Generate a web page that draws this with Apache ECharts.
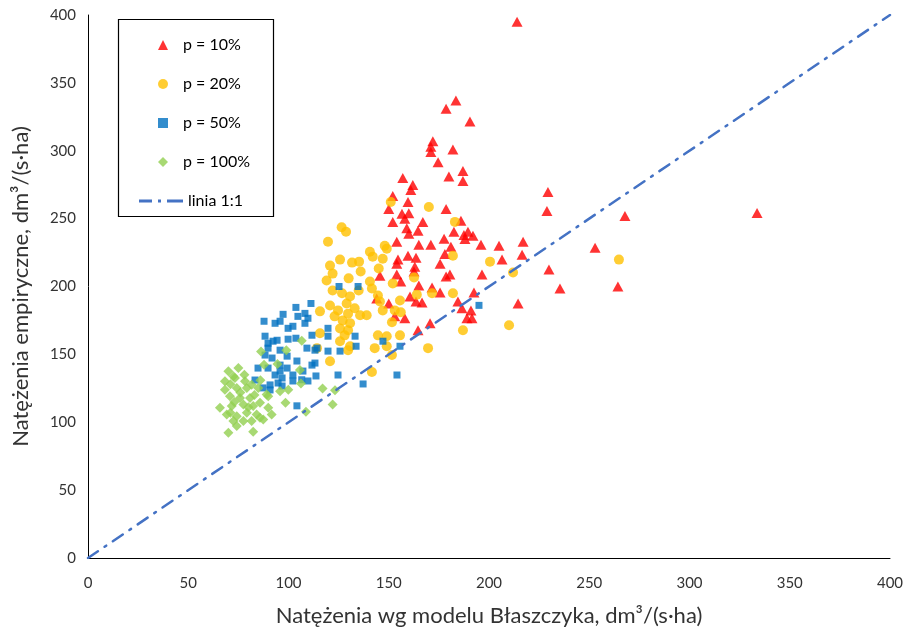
<!DOCTYPE html>
<html>
<head>
<meta charset="utf-8">
<script src="https://cdn.jsdelivr.net/npm/echarts@6/dist/echarts.min.js"></script>
<style>html,body{margin:0;padding:0;background:#fff}#c{width:908px;height:632px}</style>
</head>
<body>
<div id="c"></div>
<script>
const xTicks = [0, 400, 50];
const yTicks = [0, 400, 50];
const seriesNames = ['p = 10%', 'p = 20%', 'p = 50%', 'p = 100%', 'linia 1:1'];
const xTitle = 'Natężenia wg modelu Błaszczyka, dm³/(s·ha)';
const yTitle = 'Natężenia empiryczne, dm³/(s·ha)';

const p10 = [
[214,395],[183.5,337],[178.6,331],[190.5,321.6],[172,307],[171,303],[171,299],[182,301],[174.6,291.6],
[180,281],[187,285],[187,277.7],[157,280],[162,274.7],[161,271],[152,266.7],[159.6,262.3],[150,257],
[178.6,257],[156.6,253.5],[160,254],[158,250],[152,247.6],[167,247.6],[186,248.4],[159,243],[164.6,241],
[160,238.8],[182.5,240.3],[187.5,238],[189.5,240.3],[192,237.4],[177.6,235.2],[188,235],[154,233],
[165,230.8],[171,230.8],[181,229.3],[196,230.8],[205,230],[217,233],[178,224],[159.6,222.7],[163.6,221.2],
[154.6,219.8],[154,216.8],[175.6,216.8],[206.5,219.8],[216.5,223.4],[163,214.6],[162.6,211],[154,208.8],
[178.6,207.3],[180.5,208.8],[196.5,208.8],[145.6,208],[156,203.7],[165,200.7],[171.6,199.3],[175.6,195.6],
[192.5,195.6],[144,191.2],[160.6,192.7],[163.6,189],[166.6,188.3],[184.5,189],[150,187.5],[153,178],
[158,176.6],[189,176.6],[191.5,176.6],[191,182.4],[186.5,183.9],[164.6,167.8],[170.6,172.9],
[229.4,269.6],[228.9,255.7],[267.8,252],[333.7,254.2],[252.9,228.6],[229.9,212.5],[235.4,198.5],
[264.3,200],[214.5,187.5]
];
const p20 = [
[151,262.3],[170,258.6],[183,247.6],[149,227.8],[182,222.7],[200.5,218.3],[162.6,206.6],[152,202.2],
[164,194],[171.6,195],[182,195],[155.6,189.7],[153,182.4],[156,181],[151.6,173.6],[187,167.8],[155.6,164],
[212,210.3],[264.8,219.8],[210,171.4],[169.6,154.6],[126.5,243.7],[128.7,240.3],[119.7,233],[140.6,225.6],
[148,230],[125.7,219.8],[131.7,217.6],[135.2,218.3],[120.7,215.4],[142,222],[147,220.5],[145,213.2],
[136,211],[122,209.5],[130,206],[119,204.4],[140.6,203.7],[141.6,198.5],[135,197],[122,197],[126.7,195],
[130.7,192.7],[144.6,193.4],[145.6,189],[120.7,186],[124.7,182.4],[129,187.5],[133,184],[115.7,181.7],
[123,178],[127,175],[129.7,180],[135.7,178.8],[139,178.8],[147,182.4],[130.7,173],[125.7,169],[129.7,167.8],
[128,164],[115.7,165.6],[144.6,164],[149,163.4],[125.7,159.7],[130.7,156],[114.2,154.6],[143,154.6],
[149,156],[151.6,149.5],[120.7,145],[141.6,137],[129.7,153]
];
const p50 = [
[111.2,187.5],[103.7,184.6],[108.2,180.2],[97.3,179.5],[109.7,176.6],[104.7,178],[87.8,174.4],[93.3,172.9],
[95.8,174.4],[99.8,169.2],[102.2,170.7],[108.2,172.9],[88.3,163.4],[92.3,159.7],[94.3,160.4],[99.8,161.2],
[103.7,161.9],[111.7,164.1],[109.2,154.6],[114.2,154.6],[89.8,154.6],[95.8,153.1],[88.3,149.5],[91.8,147.3],
[99.3,148.7],[104.2,145.1],[111.7,142.1],[84.8,139.9],[89.8,139.9],[95.8,142.1],[99.3,139.9],[107.2,137.7],
[93.3,134.8],[102.2,134.8],[96.8,132.6],[83.3,131.1],[90.8,127.5],[94.8,128.9],[109.7,130.4],[102.2,130.4],
[87.3,125.3],[96.8,126.7],[90.8,123.8],[104.2,112.1],[113.2,153.1],[119.7,163.4],[133.2,163.4],[119.7,152.4],
[125.7,152.4],[113.7,134.1],[124.7,134.8],[125.2,200],[134.7,200],[119.7,169.2],[147.1,159.7],[133.7,156],
[155.6,156],[154.1,134.8],[195,186.1],[137.2,128.2],[89.8,158.2],[113.2,143.6],[95.8,137.7],[106.6,131.3]
];
const p100 = [
[106.6,160.1],[86.3,152.2],[98.9,153.1],[87.8,142.3],[94.5,142.9],[105.7,138.5],[106.2,128.6],[95.8,122.9],
[99.9,124],[117,124.9],[123.2,123.6],[98.5,114.3],[108.7,107.7],[122,113],[70,92.3],[82.4,93],[89.9,110.6],
[75,139.9],[70,137.5],[72.5,133.8],[68.3,130.2],[73.3,132.6],[78.3,130.2],[81.6,127.7],[68.3,124],[74.2,125.3],
[79.2,125.3],[84.9,125.3],[89.1,120.4],[70.8,119.2],[75.8,117.9],[80.8,117.9],[85.8,114.3],[89.9,119.2],
[65.8,110.6],[71.7,111.9],[77.5,113],[82.4,111.9],[69.2,105.7],[74.2,104.5],[79.2,107],[84.1,105.7],
[87.4,102.1],[72.5,100.9],[77.5,100.9],[91.6,105.7],[81.6,100.9],[74.2,97.2],[85.8,103.3],
[71,128],[76,122],[80,111],[73,115],[78,135],[83,120],[86,131],[71,107]
];
const line11 = [[0,0],[400,400]];

const FONT = 'Lato';
const legendText = {fontFamily:FONT,fontSize:16,color:'#000',lineHeight:16};
const chart = echarts.init(document.getElementById('c'), null, {renderer:'canvas'});
chart.setOption({
  animation:false,
  backgroundColor:'#ffffff',
  textStyle:{fontFamily:FONT},
  grid:{left:88,right:18,top:15,bottom:71,containLabel:false},
  graphic:[{type:'rect',left:116,top:17,shape:{width:155,height:197},style:{fill:'none',stroke:'#000',lineWidth:1.2},z:100}],
  legend:[{
    orient:'vertical',left:153,top:32,itemWidth:10,itemHeight:10,itemGap:23,
    textStyle:Object.assign({padding:[0,0,0,10]},legendText),
    data:seriesNames.slice(0,4).map(n=>({name:n}))
  },{
    orient:'vertical',left:134,top:188,itemWidth:44,itemHeight:16,itemGap:23,
    textStyle:legendText,
    data:[{name:seriesNames[4],icon:'path://M0,0h13v3h-13zM19,0h3v3h-3zM28,0h16v3h-16z',itemStyle:{color:'#4472C4'}}]
  }],
  xAxis:{
    type:'value',min:xTicks[0],max:xTicks[1],interval:xTicks[2],
    name:xTitle,nameLocation:'middle',nameGap:47,
    nameTextStyle:{fontFamily:FONT,fontSize:22,color:'#333'},
    axisLine:{show:true,lineStyle:{color:'#000',width:1}},
    axisTick:{show:false},splitLine:{show:false},
    axisLabel:{fontFamily:FONT,fontSize:15,color:'#333',margin:18}
  },
  yAxis:{
    type:'value',min:yTicks[0],max:yTicks[1],interval:yTicks[2],
    name:yTitle,nameLocation:'middle',nameGap:56,
    nameTextStyle:{fontFamily:FONT,fontSize:22,color:'#333'},
    axisLine:{show:true,lineStyle:{color:'#000',width:1}},
    axisTick:{show:false},splitLine:{show:false},
    axisLabel:{fontFamily:FONT,fontSize:15,color:'#333',margin:12}
  },
  series:[
    {name:seriesNames[0],type:'scatter',data:p10,symbol:'triangle',symbolSize:[11,10],itemStyle:{color:'#FF0000'}},
    {name:seriesNames[1],type:'scatter',data:p20,symbol:'circle',symbolSize:10,itemStyle:{color:'#FFC000'}},
    {name:seriesNames[2],type:'scatter',data:p50,symbol:'rect',symbolSize:7,itemStyle:{color:'#0070C0'}},
    {name:seriesNames[3],type:'scatter',data:p100,symbol:'diamond',symbolSize:[10,10],itemStyle:{color:'#92D050'}},
    {name:seriesNames[4],type:'line',data:line11,symbol:'none',
     lineStyle:{color:'#4472C4',width:2.5,type:[12,8,2,8],cap:'round'},itemStyle:{color:'#4472C4'}}
  ]
});
</script>
</body>
</html>
